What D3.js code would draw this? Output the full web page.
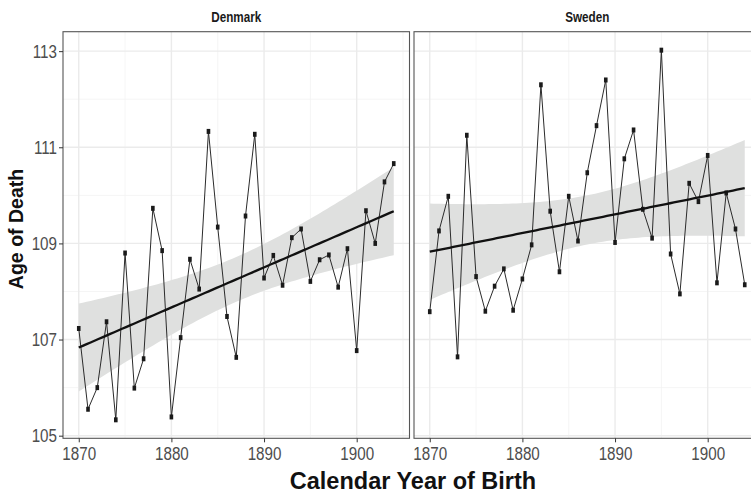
<!DOCTYPE html>
<html>
<head>
<meta charset="utf-8">
<script src="https://cdn.jsdelivr.net/npm/d3@7"></script>
<style>
  body { margin: 0; background: #fff; }
  text { font-family: "Liberation Sans", Arial, sans-serif; }
</style>
</head>
<body>
<script>
// years of birth (same for both countries)
var years = d3.range(1870, 1905);

// age of death of the oldest person born each year
var denmark = [107.23, 105.55, 106.00, 107.37, 105.33, 108.80, 105.99, 106.60, 109.73, 108.85,
               105.39, 107.04, 108.67, 108.05, 111.33, 109.34, 107.48, 106.63, 109.57, 111.27,
               108.28, 108.75, 108.13, 109.12, 109.30, 108.21, 108.66, 108.76, 108.09, 108.89,
               106.77, 109.68, 109.00, 110.28, 110.66];
var sweden  = [107.58, 109.26, 109.98, 106.64, 111.25, 108.31, 107.59, 108.11, 108.47, 107.61,
               108.26, 108.97, 112.30, 109.67, 108.41, 109.98, 109.05, 110.47, 111.45, 112.40,
               109.02, 110.76, 111.36, 109.71, 109.11, 113.02, 108.78, 107.95, 110.25, 109.87,
               110.83, 108.18, 110.05, 109.30, 108.14];

var countries = ["Denmark", "Sweden"];
var yMajor = [105, 107, 109, 111, 113];
var yMinor = [106, 108, 110, 112];
var xMajor = [1870, 1880, 1890, 1900];
var xMinor = [1865, 1875, 1885, 1895, 1905];

var width = 751, height = 495;
var panelLeft = 63, panelW = 346.5, panelGap = 4.5;
var panelTop = 31.7, panelBottom = 438.3;

var svg = d3.select('body').append('svg')
  .attr('width', width)
  .attr('height', height);

// squeeze text horizontally (the original uses a narrow font)
function narrow(sel, sx) {
  sel.each(function() {
    var t = d3.select(this);
    var x = +t.attr('x') || 0, y = +t.attr('y') || 0;
    t.attr('x', 0).attr('y', 0)
      .attr('transform', 'translate(' + x + ',' + y + ') scale(' + sx + ',1)');
  });
}

// linear fit with 95% band (like geom_smooth(method = "lm"))
function lmFit(xs, ys) {
  var n = xs.length;
  var mx = d3.mean(xs), my = d3.mean(ys);
  var sxx = d3.sum(xs, function(x) { return (x - mx) * (x - mx); });
  var sxy = d3.sum(xs, function(x, i) { return (x - mx) * (ys[i] - my); });
  var b = sxy / sxx, a = my - b * mx;
  var sse = d3.sum(xs, function(x, i) { var r = ys[i] - (a + b * x); return r * r; });
  var s = Math.sqrt(sse / (n - 2));
  var t = 2.0345; // qt(0.975, 33)
  var grid = d3.range(0, 81).map(function(i) { return xs[0] + (xs[n - 1] - xs[0]) * i / 80; });
  return grid.map(function(x) {
    var fit = a + b * x;
    var se = s * Math.sqrt(1 / n + (x - mx) * (x - mx) / sxx);
    return { x: x, y: fit, lo: fit - t * se, hi: fit + t * se };
  });
}

// y scale shared by both panels, 5% expansion like ggplot
var all = denmark.concat(sweden);
var yMin = d3.min(all), yMax = d3.max(all), yPad = (yMax - yMin) * 0.05;
var yScale = d3.scaleLinear()
  .domain([yMin - yPad, yMax + yPad])
  .range([panelBottom, panelTop]);

var xPad = (years[years.length - 1] - years[0]) * 0.05;

var seriesList = [denmark, sweden];

countries.forEach(function(name, k) {
  var vals = seriesList[k];
  var x0 = panelLeft + k * (panelW + panelGap);
  var xScale = d3.scaleLinear()
    .domain([years[0] - xPad, years[years.length - 1] + xPad])
    .range([x0, x0 + panelW]);

  var g = svg.append('g');

  // minor grid
  g.selectAll('.ymin').data(yMinor).enter().append('line')
    .attr('x1', x0).attr('x2', x0 + panelW)
    .attr('y1', yScale).attr('y2', yScale)
    .attr('stroke', '#f2f2f2').attr('stroke-width', 0.8);
  g.selectAll('.xmin').data(xMinor.filter(function(d) { return xScale(d) > x0 && xScale(d) < x0 + panelW; }))
    .enter().append('line')
    .attr('x1', xScale).attr('x2', xScale)
    .attr('y1', panelTop).attr('y2', panelBottom)
    .attr('stroke', '#f2f2f2').attr('stroke-width', 0.8);

  // major grid
  g.selectAll('.ymaj').data(yMajor).enter().append('line')
    .attr('x1', x0).attr('x2', x0 + panelW)
    .attr('y1', yScale).attr('y2', yScale)
    .attr('stroke', '#ebebeb').attr('stroke-width', 1.4);
  g.selectAll('.xmaj').data(xMajor).enter().append('line')
    .attr('x1', xScale).attr('x2', xScale)
    .attr('y1', panelTop).attr('y2', panelBottom)
    .attr('stroke', '#ebebeb').attr('stroke-width', 1.4);

  // confidence band
  var fit = lmFit(years, vals);
  g.append('path')
    .datum(fit)
    .attr('d', d3.area()
      .x(function(d) { return xScale(d.x); })
      .y0(function(d) { return yScale(d.lo); })
      .y1(function(d) { return yScale(d.hi); }))
    .attr('fill', '#dfe0df');

  // observed line
  g.append('path')
    .datum(vals)
    .attr('d', d3.line()
      .x(function(d, i) { return xScale(years[i]); })
      .y(function(d) { return yScale(d); }))
    .attr('fill', 'none')
    .attr('stroke', '#2b2b2b')
    .attr('stroke-width', 1);

  // points
  g.selectAll('.pt').data(vals).enter().append('rect')
    .attr('x', function(d, i) { return xScale(years[i]) - 1.8; })
    .attr('y', function(d) { return yScale(d) - 2.5; })
    .attr('width', 3.6).attr('height', 5)
    .attr('fill', '#1a1a1a');

  // fitted line
  g.append('path')
    .datum(fit)
    .attr('d', d3.line()
      .x(function(d) { return xScale(d.x); })
      .y(function(d) { return yScale(d.y); }))
    .attr('fill', 'none')
    .attr('stroke', '#111')
    .attr('stroke-width', 2.3);

  // panel border
  g.append('rect')
    .attr('x', x0).attr('y', panelTop)
    .attr('width', panelW).attr('height', panelBottom - panelTop)
    .attr('fill', 'none')
    .attr('stroke', '#555').attr('stroke-width', 1.1);

  // strip label
  svg.append('text')
    .attr('x', x0 + panelW / 2).attr('y', 22.3)
    .attr('text-anchor', 'middle')
    .attr('font-size', 15).attr('font-weight', 'bold')
    .attr('fill', '#1a1a1a')
    .text(name)
    .call(narrow, 0.78);

  // x axis
  var xAxis = svg.append('g')
    .attr('transform', 'translate(0,' + panelBottom + ')')
    .call(d3.axisBottom(xScale).tickValues(xMajor).tickFormat(d3.format('d')).tickSize(4).tickPadding(4));
  xAxis.select('.domain').remove();
  xAxis.selectAll('line').attr('stroke', '#333');
  xAxis.selectAll('text')
    .attr('font-size', 19).attr('fill', '#4d4d4d')
    .call(narrow, 0.8);
});

// y axis (left panel only)
var yAxis = svg.append('g')
  .attr('transform', 'translate(' + panelLeft + ',0)')
  .call(d3.axisLeft(yScale).tickValues(yMajor).tickSize(4).tickPadding(2));
yAxis.select('.domain').remove();
yAxis.selectAll('line').attr('stroke', '#333');
yAxis.selectAll('text')
  .attr('font-size', 19).attr('fill', '#4d4d4d')
  .call(narrow, 0.8);

// axis titles
svg.append('text')
  .attr('x', 413).attr('y', 489)
  .attr('text-anchor', 'middle')
  .attr('font-size', 23.5).attr('font-weight', 'bold')
  .attr('fill', '#111')
  .text('Calendar Year of Birth');

svg.append('text')
  .attr('transform', 'translate(23.3,229) rotate(-90)')
  .attr('text-anchor', 'middle')
  .attr('font-size', 19.5).attr('font-weight', 'bold')
  .attr('fill', '#111')
  .text('Age of Death');
</script>
</body>
</html>
